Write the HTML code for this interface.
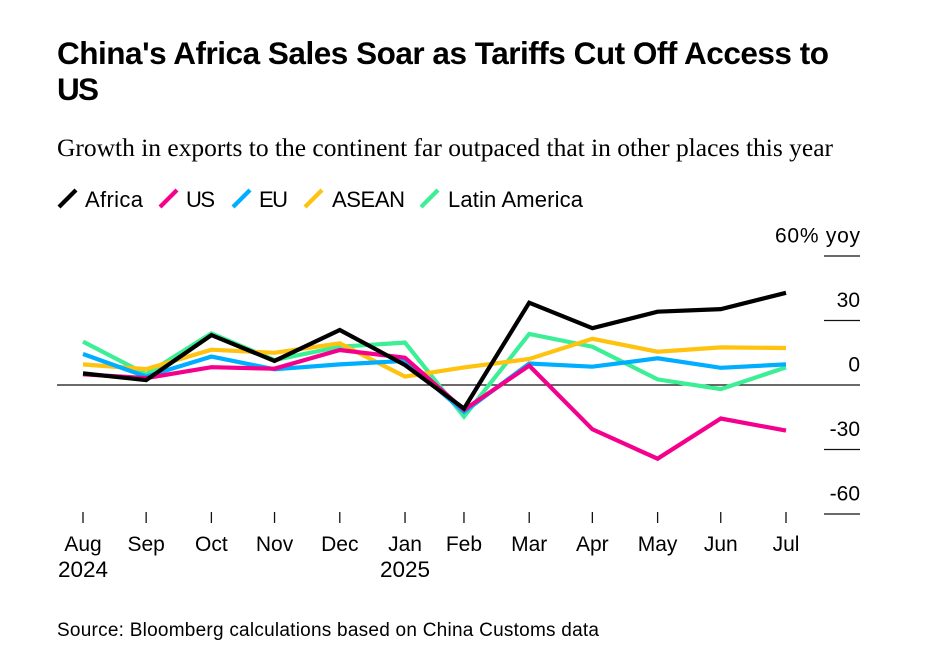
<!DOCTYPE html>
<html>
<head>
<meta charset="utf-8">
<style>
html,body{margin:0;padding:0;background:#fff;width:934px;height:654px;overflow:hidden}
svg{display:block}
text{font-family:"Liberation Sans",sans-serif;fill:#000}
</style>
</head>
<body>
<svg id="chart" width="934" height="654" viewBox="0 0 934 654" xmlns="http://www.w3.org/2000/svg">
<rect width="934" height="654" fill="#fff"/>
<text x="57" y="64" font-size="31.5" font-weight="700" textLength="772" lengthAdjust="spacing">China's Africa Sales Soar as Tariffs Cut Off Access to</text>
<text x="57" y="100" font-size="31.5" font-weight="700" textLength="42" lengthAdjust="spacing">US</text>
<text x="57" y="156" font-size="25.5" textLength="776" lengthAdjust="spacing" style="font-family:'Liberation Serif',serif">Growth in exports to the continent far outpaced that in other places this year</text>
<text x="57" y="636" font-size="19" textLength="542" lengthAdjust="spacing">Source: Bloomberg calculations based on China Customs data</text>
<g id="legend"></g>
<g id="grid"></g>
<g id="xaxis"></g>
<g id="series"></g>
</svg>
<script>
var months = ["Aug","Sep","Oct","Nov","Dec","Jan","Feb","Mar","Apr","May","Jun","Jul"];
var yearLabels = ["2024","","","","","2025","","","","","",""];
var monthEndDays = [0,30,61,91,122,153,181,212,242,273,303,334];
var yTicks = [60,30,0,-30,-60];
var yTickLabels = ["60% yoy","30","0","-30","-60"];
var africa = [5.4,2.3,23.2,11.2,25.6,9.3,-11,38.3,26.4,34.1,35.3,42.9];
var us = [5,3.2,8.3,7.6,16.3,12.7,-11.6,9,-20.6,-34.3,-15.6,-21.2];
var eu = [14.4,3.9,13.2,7.3,9.6,11.2,-12.5,10,8.5,12.4,8,9.6];
var asean = [9.6,7.4,16.4,15,19.4,3.9,8.2,12.1,21.5,15.5,17.5,17.2];
var latinAmerica = [20.2,5,24,11.6,17.8,19.7,-14.7,23.7,17.8,2.6,-1.9,8.2];
var seriesNames = ["Africa","US","EU","ASEAN","Latin America"];
var seriesColors = ["#000000","#f5008c","#00aeff","#ffc20e","#3cef96"];
var seriesValues = [africa,us,eu,asean,latinAmerica];
var legendWidths = [58,29,29,73,135];

var NS = "http://www.w3.org/2000/svg";
function xScale(d){ return 83 + d * (786 - 83) / 334; }
function yScale(v){ return 385 - v * 64.5 / 30; }
function slug(s){ return s.toLowerCase().replace(/\s+/g,"-"); }
function make(tag, attrs, parent, txt){
  var el = document.createElementNS(NS, tag);
  for (var k in attrs) el.setAttribute(k, attrs[k]);
  if (txt !== undefined) el.textContent = txt;
  parent.appendChild(el);
  return el;
}
var legend = document.getElementById("legend");
var grid = document.getElementById("grid");
var xaxis = document.getElementById("xaxis");
var seriesG = document.getElementById("series");

/* legend */
var legendX = [59,160,233,305,421];
seriesNames.forEach(function(name,i){
  var lx = legendX[i];
  var mark = make("line",{x1:lx,y1:207,x2:lx+17,y2:190,stroke:seriesColors[i],"stroke-width":4.2},legend);
  
  
  var t = make("text",{x:[85,186,259,332,448][i],y:207,"font-size":22,textLength:legendWidths[i],lengthAdjust:"spacing"},legend,name);
  
  
});

/* y axis */
yTicks.forEach(function(v,i){
  var y = yScale(v);
  var isZero = v === 0;
  var g = make("line",{x1:isZero?57:824,y1:y,x2:860,y2:y,stroke:"#111","stroke-width":1.3},grid);
  
  
  var attrs = {x:860,y:y-13.5,"font-size":21,"text-anchor":"end"};
  if (i === 0) { attrs.textLength = 85; attrs.lengthAdjust = "spacing"; }
  var t = make("text",attrs,grid,yTickLabels[i]);
  
  
});

/* x axis */
months.forEach(function(m,i){
  var x = xScale(monthEndDays[i]);
  var tick = make("line",{x1:x,y1:512,x2:x,y2:523,stroke:"#111","stroke-width":1.3},xaxis);
  
  
  var t = make("text",{x:x,y:551,"font-size":21,"text-anchor":"middle"},xaxis,m);
  
  
  if (yearLabels[i]) {
    var yr = make("text",{x:x,y:577,"font-size":22.5,"text-anchor":"middle"},xaxis,yearLabels[i]);
    
    
  }
});

/* series: drawn last-to-first so Africa sits on top */
for (var s = seriesValues.length - 1; s >= 0; s--) {
  var pts = seriesValues[s].map(function(v,i){
    return xScale(monthEndDays[i]).toFixed(1) + "," + yScale(v).toFixed(1);
  }).join(" ");
  var line = make("polyline",{points:pts,fill:"none",stroke:seriesColors[s],"stroke-width":4.2,"stroke-linejoin":"miter"},seriesG);
  
  
}
</script>
</body>
</html>
